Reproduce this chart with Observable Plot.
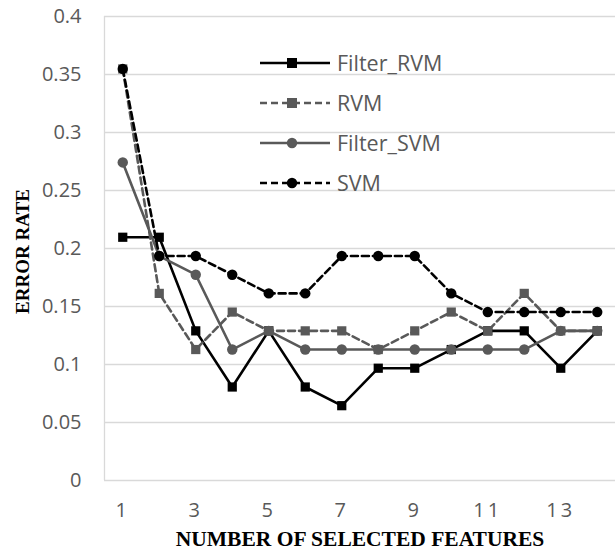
<!DOCTYPE html>
<html>
<head>
<meta charset="utf-8">
<script src="https://cdn.jsdelivr.net/npm/d3@7"></script>
<script src="https://cdn.jsdelivr.net/npm/@observablehq/plot@0.6"></script>
<style>
  html, body { margin: 0; padding: 0; background: #fff; }
  #chart { position: relative; width: 616px; height: 552px; }
  #chart svg { display: block; }
  .xticks text { letter-spacing: 3px; }
</style>
</head>
<body>
<div id="chart"></div>
<script>
// ---- data ----
const features = [1, 2, 3, 4, 5, 6, 7, 8, 9, 10, 11, 12, 13, 14];
const filterRVM = [0.2097, 0.2097, 0.129, 0.0806, 0.129, 0.0806, 0.0645, 0.0968, 0.0968, 0.1129, 0.129, 0.129, 0.0968, 0.129];
const rvm       = [0.3548, 0.1613, 0.1129, 0.1452, 0.129, 0.129, 0.129, 0.1129, 0.129, 0.1452, 0.129, 0.1613, 0.129, 0.129];
const filterSVM = [0.2742, 0.1935, 0.1774, 0.1129, 0.129, 0.1129, 0.1129, 0.1129, 0.1129, 0.1129, 0.1129, 0.1129, 0.129, 0.129];
const svm       = [0.3548, 0.1935, 0.1935, 0.1774, 0.1613, 0.1613, 0.1935, 0.1935, 0.1935, 0.1613, 0.1452, 0.1452, 0.1452, 0.1452];
const seriesNames = ["Filter_RVM", "RVM", "Filter_SVM", "SVM"];
const yTicks = [0, 0.05, 0.1, 0.15, 0.2, 0.25, 0.3, 0.35, 0.4];
const xTicks = [1, 3, 5, 7, 9, 11, 13];
const xTitle = "NUMBER OF SELECTED FEATURES";
const yTitle = "ERROR RATE";

// ---- styles ----
const styles = {
  "Filter_RVM": {color: "#000000", dash: null, symbol: "square"},
  "RVM":        {color: "#595959", dash: "7,4", symbol: "square"},
  "Filter_SVM": {color: "#595959", dash: null, symbol: "circle"},
  "SVM":        {color: "#000000", dash: "7,4", symbol: "circle"}
};
const valuesBySeries = {"Filter_RVM": filterRVM, "RVM": rvm, "Filter_SVM": filterSVM, "SVM": svm};
const rows = seriesNames.flatMap(s => features.map((f, i) => ({series: s, x: f, y: valuesBySeries[s][i]})));

const xDomain = [features[0] - 0.5, features[features.length - 1] + 0.5];
const sansFont = "'Open Sans', sans-serif";
const serifFont = "'Liberation Serif', 'Times New Roman', serif";

const seriesMarks = seriesNames.flatMap(s => {
  const st = styles[s];
  const d = rows.filter(r => r.series === s);
  return [
    Plot.line(d, {x: "x", y: "y", stroke: st.color, strokeWidth: 2.6, strokeDasharray: st.dash ?? undefined}),
    Plot.dot(d, {x: "x", y: "y", symbol: () => st.symbol, fill: st.color, stroke: "none", r: 5.2})
  ];
});

const plot = Plot.plot({
  width: 616,
  height: 552,
  marginLeft: 104,
  marginRight: 1,
  marginTop: 16,
  marginBottom: 72,
  style: {fontFamily: sansFont, color: "#595959", background: "white"},
  x: {domain: xDomain, type: "linear"},
  y: {domain: [0, 0.4]},
  symbol: {domain: ["square", "circle"], range: ["square", "circle"]},
  marks: [
    Plot.gridY(yTicks, {stroke: "#d9d9d9", strokeOpacity: 1, strokeWidth: 1.3}),
    Plot.ruleX([xDomain[0]], {stroke: "#d9d9d9", strokeWidth: 1.3}),
    Plot.axisY(yTicks, {tickSize: 0, tickPadding: 23, fontSize: 20, label: null, tickFormat: d => String(+d.toFixed(2)), fill: "#595959"}),
    Plot.axisX(xTicks, {tickSize: 0, tickPadding: 22, fontSize: 20, label: null, tickFormat: d => String(d), fill: "#595959", className: "xticks"}),
    Plot.text([yTitle], {frameAnchor: "left", textAnchor: "middle", dx: -82, dy: 3, rotate: -90, fontFamily: serifFont, fontWeight: "bold", fontSize: 19, fill: "black"}),
    Plot.text([xTitle], {frameAnchor: "bottom", textAnchor: "middle", dy: 59, lineAnchor: "middle", fontFamily: serifFont, fontWeight: "bold", fontSize: 21.5, fill: "black"}),
    ...seriesMarks
  ]
});

const chart = document.getElementById("chart");
chart.appendChild(plot);

// ---- legend (inside the plot area, top) ----
const svg = d3.select(plot);
const lg = svg.append("g").attr("class", "legend");
const legendLeft = 260, legendTop = 63, rowGap = 40, sampleW = 70;
seriesNames.forEach((s, i) => {
  const st = styles[s];
  const y = legendTop + i * rowGap;
  const g = lg.append("g").attr("transform", `translate(${legendLeft},${y})`);
  g.append("line").attr("x1", 0).attr("x2", sampleW).attr("y1", 0).attr("y2", 0)
    .attr("stroke", st.color).attr("stroke-width", 2.6)
    .attr("stroke-dasharray", st.dash);
  if (st.symbol === "square") {
    g.append("rect").attr("x", sampleW / 2 - 3 - 5).attr("y", -5).attr("width", 10).attr("height", 10).attr("fill", st.color);
  } else {
    g.append("circle").attr("cx", sampleW / 2 - 3).attr("cy", 0).attr("r", 5.2).attr("fill", st.color);
  }
  g.append("text").attr("x", sampleW + 7).attr("y", 0).attr("dy", "0.35em")
    .attr("text-anchor", "start")
    .attr("font-family", sansFont).attr("font-size", 21.5).attr("fill", "#595959").text(s);
});
</script>
</body>
</html>
